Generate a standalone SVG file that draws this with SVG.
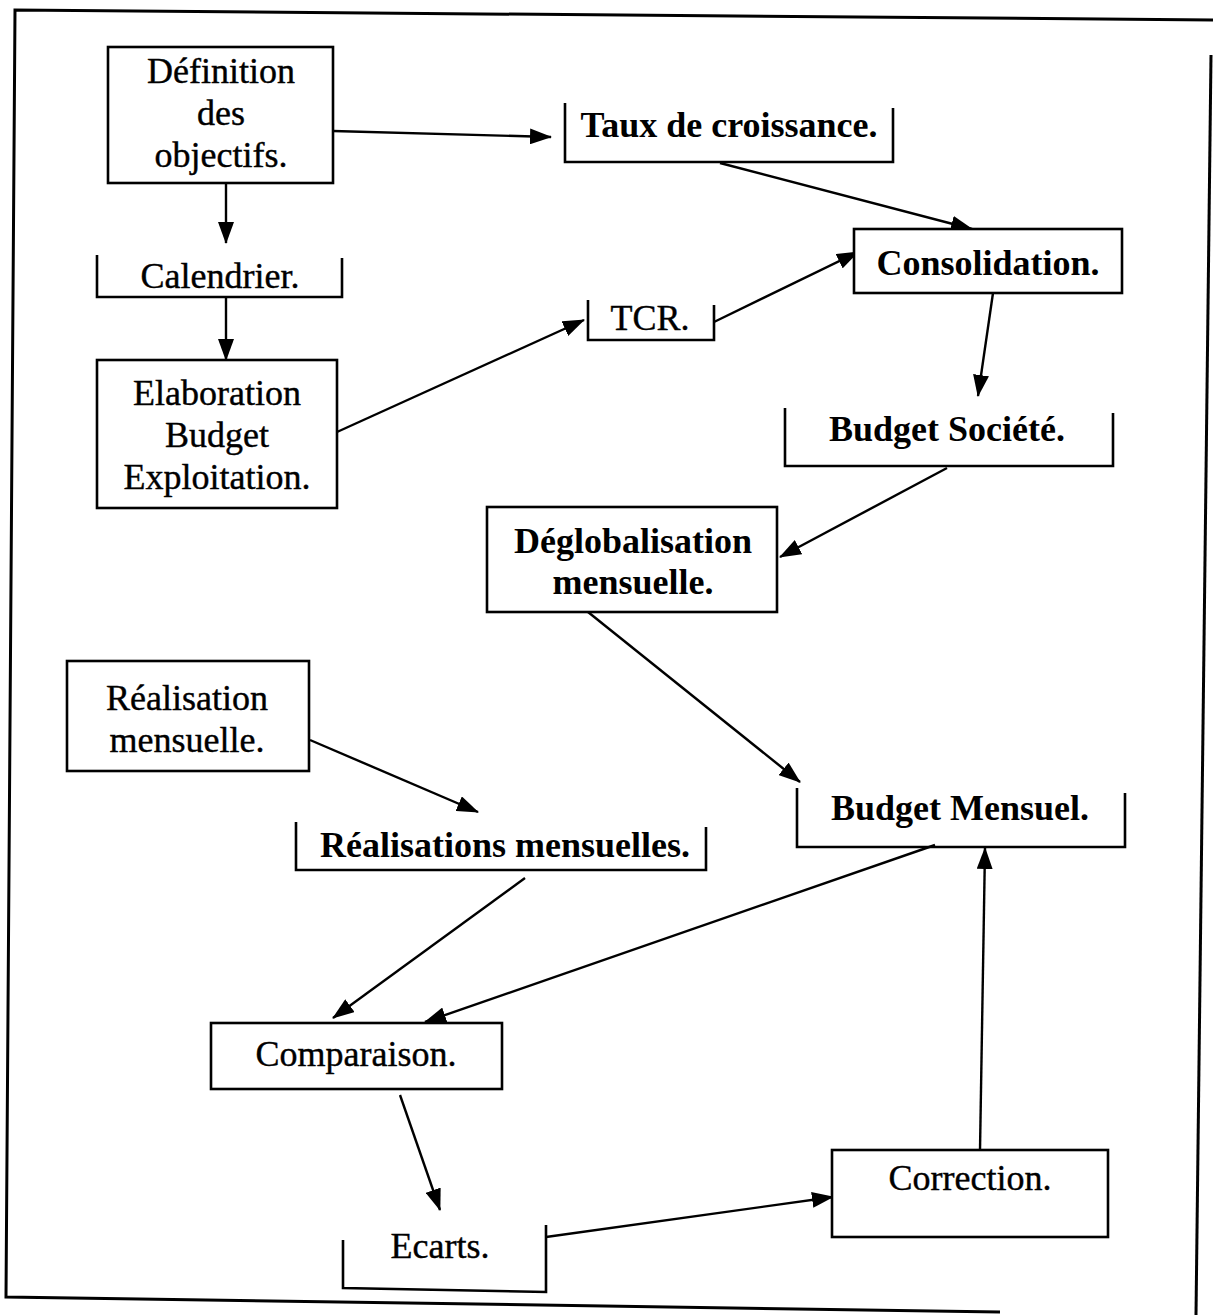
<svg xmlns="http://www.w3.org/2000/svg" width="1213" height="1315" viewBox="0 0 1213 1315">
  <style>
    .box { fill: #fff; stroke: #000; stroke-width: 2.6; }
    .store { fill: none; stroke: #000; stroke-width: 2.6; }
    .frame { fill: none; stroke: #000; stroke-width: 3; }
    .lbl { font-family: "Liberation Serif", "Times New Roman", serif; font-size: 36px; fill: #000; stroke: #000; stroke-width: 0.4; text-anchor: middle; }
    .b { font-weight: bold; stroke-width: 0; }
    .edge { stroke: #000; stroke-width: 2.4; fill: none; marker-end: url(#arrow); }
  </style>
  <defs>
    <marker id="arrow" viewBox="0 0 22 16" refX="21" refY="8" markerWidth="22" markerHeight="16" markerUnits="userSpaceOnUse" orient="auto">
      <path d="M0,0 L22,8 L0,16 Z" fill="#000"/>
    </marker>
  </defs>
  <rect width="1213" height="1315" fill="#fff"/>

  <!-- outer frame -->
  <path class="frame" d="M1213,20 L15,10 L6,1297 L1000,1312"/>
  <path class="frame" d="M1211,55 L1196,1315"/>

  <!-- connectors -->
  <g id="connectors">
    <line class="edge" x1="226" y1="183" x2="226" y2="243"/>
    <line class="edge" x1="333" y1="131" x2="551" y2="137"/>
    <line class="edge" x1="720" y1="163" x2="972" y2="229"/>
    <line class="edge" x1="226" y1="298" x2="226" y2="360"/>
    <line class="edge" x1="337" y1="432" x2="584" y2="320"/>
    <line class="edge" x1="714" y1="322" x2="858" y2="252"/>
    <line class="edge" x1="993" y1="293" x2="978" y2="396"/>
    <line class="edge" x1="947" y1="468" x2="780" y2="557"/>
    <line class="edge" x1="588" y1="612" x2="800" y2="782"/>
    <line class="edge" x1="310" y1="740" x2="478" y2="812"/>
    <line class="edge" x1="525" y1="878" x2="333" y2="1018"/>
    <line class="edge" x1="935" y1="845" x2="425" y2="1022"/>
    <line class="edge" x1="400" y1="1095" x2="440" y2="1210"/>
    <line class="edge" x1="546" y1="1237" x2="833" y2="1197"/>
    <line class="edge" x1="980" y1="1150" x2="985" y2="848"/>
  </g>

  <!-- process boxes and data stores -->
  <g id="definition">
    <rect class="box" x="108" y="47" width="225" height="136"/>
    <text class="lbl" x="221" y="83">Définition</text>
    <text class="lbl" x="221" y="125">des</text>
    <text class="lbl" x="221" y="167">objectifs.</text>
  </g>
  <g id="taux">
    <path class="store" d="M565,103 V162 H893 V108"/>
    <text class="lbl b" x="729" y="137">Taux de croissance.</text>
  </g>
  <g id="calendrier">
    <path class="store" d="M97,255 V297 H342 V258"/>
    <text class="lbl" x="220" y="288">Calendrier.</text>
  </g>
  <g id="elaboration">
    <rect class="box" x="97" y="360" width="240" height="148"/>
    <text class="lbl" x="217" y="405">Elaboration</text>
    <text class="lbl" x="217" y="447">Budget</text>
    <text class="lbl" x="217" y="489">Exploitation.</text>
  </g>
  <g id="tcr">
    <path class="store" d="M588,300 V340 H714 V305"/>
    <text class="lbl" x="650" y="330">TCR.</text>
  </g>
  <g id="consolidation">
    <rect class="box" x="854" y="229" width="268" height="64"/>
    <text class="lbl b" x="988" y="275">Consolidation.</text>
  </g>
  <g id="budget-societe">
    <path class="store" d="M785,408 V466 H1113 V413"/>
    <text class="lbl b" x="947" y="441">Budget Société.</text>
  </g>
  <g id="deglobalisation">
    <rect class="box" x="487" y="507" width="290" height="105"/>
    <text class="lbl b" x="633" y="553">Déglobalisation</text>
    <text class="lbl b" x="633" y="594">mensuelle.</text>
  </g>
  <g id="realisation">
    <rect class="box" x="67" y="661" width="242" height="110"/>
    <text class="lbl" x="187" y="710">Réalisation</text>
    <text class="lbl" x="187" y="752">mensuelle.</text>
  </g>
  <g id="realisations">
    <path class="store" d="M296,822 V870 H706 V827"/>
    <text class="lbl b" x="505" y="857">Réalisations mensuelles.</text>
  </g>
  <g id="budget-mensuel">
    <path class="store" d="M797,788 V847 H1125 V793"/>
    <text class="lbl b" x="960" y="820">Budget Mensuel.</text>
  </g>
  <g id="comparaison">
    <rect class="box" x="211" y="1023" width="291" height="66"/>
    <text class="lbl" x="356" y="1066">Comparaison.</text>
  </g>
  <g id="ecarts">
    <path class="store" d="M343,1240 V1288 L546,1292 V1225"/>
    <text class="lbl" x="440" y="1258">Ecarts.</text>
  </g>
  <g id="correction">
    <rect class="box" x="832" y="1150" width="276" height="87"/>
    <text class="lbl" x="970" y="1190">Correction.</text>
  </g>
</svg>
